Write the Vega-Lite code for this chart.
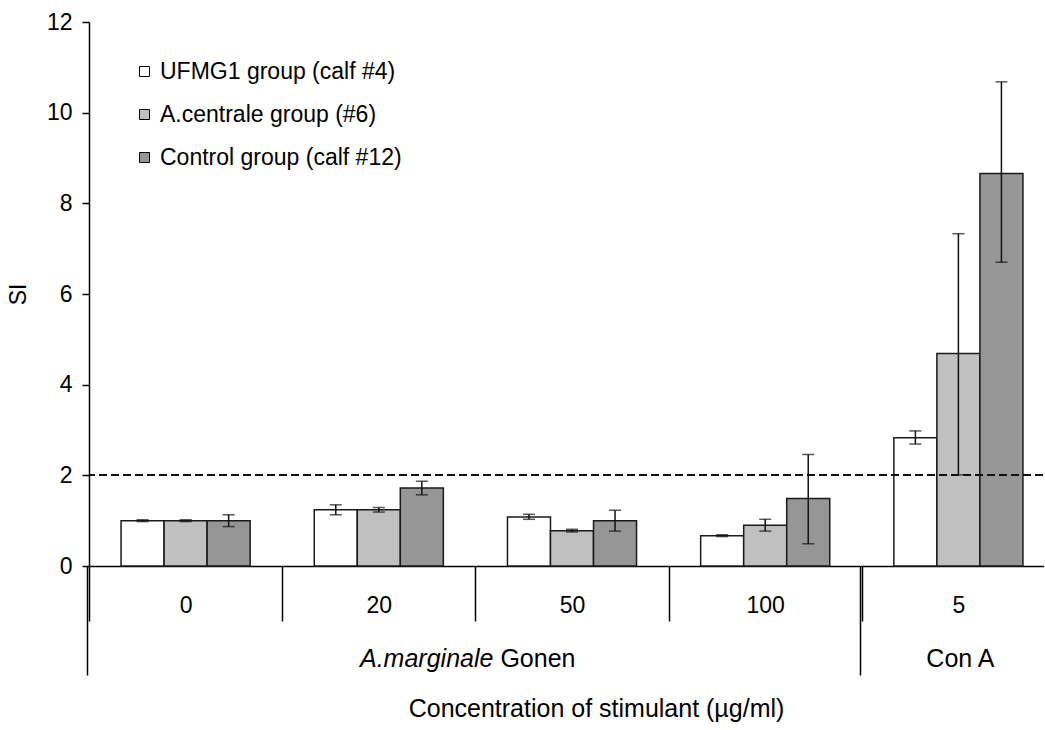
{
  "$schema": "https://vega.github.io/schema/vega-lite/v6.json",
  "width": 966,
  "height": 544,
  "autosize": {"type": "none"},
  "padding": {"left": 89, "top": 22, "right": -11, "bottom": 164},
  "background": "white",
  "config": {
    "font": "Liberation Sans",
    "view": {"stroke": null},
    "axis": {
      "labelColor": "#000",
      "titleColor": "#000",
      "domainColor": "#000",
      "tickColor": "#000",
      "domainWidth": 1.5,
      "tickWidth": 1.5,
      "labelFontSize": 23,
      "titleFontSize": 25,
      "titleFontWeight": "normal",
      "grid": false
    },
    "text": {"font": "Liberation Sans", "fontSize": 25, "color": "#000"}
  },
  "resolve": {"axis": {"x": "independent"}},
  "data": {
    "values": [
      {"conc": "0", "grp": "UFMG1 group (calf #4)", "si": 1.0, "lo": 0.98, "hi": 1.02},
      {"conc": "0", "grp": "A.centrale group (#6)", "si": 1.0, "lo": 0.98, "hi": 1.02},
      {"conc": "0", "grp": "Control group (calf #12)", "si": 1.0, "lo": 0.87, "hi": 1.13},
      {"conc": "20", "grp": "UFMG1 group (calf #4)", "si": 1.24, "lo": 1.13, "hi": 1.35},
      {"conc": "20", "grp": "A.centrale group (#6)", "si": 1.24, "lo": 1.19, "hi": 1.29},
      {"conc": "20", "grp": "Control group (calf #12)", "si": 1.72, "lo": 1.57, "hi": 1.87},
      {"conc": "50", "grp": "UFMG1 group (calf #4)", "si": 1.08, "lo": 1.03, "hi": 1.14},
      {"conc": "50", "grp": "A.centrale group (#6)", "si": 0.78, "lo": 0.75, "hi": 0.81},
      {"conc": "50", "grp": "Control group (calf #12)", "si": 1.0, "lo": 0.77, "hi": 1.23},
      {"conc": "100", "grp": "UFMG1 group (calf #4)", "si": 0.67, "lo": 0.65, "hi": 0.69},
      {"conc": "100", "grp": "A.centrale group (#6)", "si": 0.9, "lo": 0.77, "hi": 1.03},
      {"conc": "100", "grp": "Control group (calf #12)", "si": 1.49, "lo": 0.49, "hi": 2.46},
      {"conc": "5", "grp": "UFMG1 group (calf #4)", "si": 2.83, "lo": 2.69, "hi": 2.98},
      {"conc": "5", "grp": "A.centrale group (#6)", "si": 4.69, "lo": 2.01, "hi": 7.33},
      {"conc": "5", "grp": "Control group (calf #12)", "si": 8.66, "lo": 6.7, "hi": 10.68}
    ]
  },
  "layer": [
    {
      "mark": {"type": "bar", "stroke": "#1a1a1a", "strokeWidth": 1.5},
      "encoding": {
        "x": {
          "field": "conc",
          "type": "nominal",
          "sort": ["0", "20", "50", "100", "5"],
          "scale": {"paddingInner": 0, "paddingOuter": 0},
          "axis": {
            "orient": "bottom",
            "title": "Concentration of stimulant (µg/ml)",
            "labelAngle": 0,
            "tickBand": "extent",
            "tickSize": 55,
            "labelBaseline": "middle",
            "labelPadding": -16,
            "titleX": 507,
            "titleY": 142,
            "titleBaseline": "middle"
          }
        },
        "xOffset": {
          "field": "grp",
          "sort": ["UFMG1 group (calf #4)", "A.centrale group (#6)", "Control group (calf #12)"],
          "scale": {"paddingInner": 0, "paddingOuter": 0.745}
        },
        "y": {
          "field": "si",
          "type": "quantitative",
          "scale": {"domain": [0, 12], "nice": false},
          "axis": {
            "title": "SI",
            "values": [0, 2, 4, 6, 8, 10, 12],
            "tickSize": 7,
            "labelPadding": 10,
            "titleFontSize": 23,
            "titleX": -71,
            "titleY": 272,
            "titleBaseline": "middle",
            "titleAlign": "center"
          }
        },
        "fill": {
          "field": "grp",
          "type": "nominal",
          "scale": {
            "domain": ["UFMG1 group (calf #4)", "A.centrale group (#6)", "Control group (calf #12)"],
            "range": ["#ffffff", "#c0c0c0", "#969696"]
          },
          "legend": {
            "orient": "none",
            "legendX": 44,
            "legendY": 38,
            "title": null,
            "symbolType": "square",
            "symbolSize": 100,
            "symbolStrokeColor": "#000",
            "symbolStrokeWidth": 1,
            "symbolOpacity": 1,
            "labelFontSize": 23,
            "labelColor": "#000",
            "labelLimit": 400,
            "labelOffset": 4,
            "rowPadding": 19
          }
        }
      }
    },
    {
      "mark": {"type": "rule", "color": "#111", "strokeWidth": 1.5},
      "encoding": {
        "x": {"field": "conc", "type": "nominal", "sort": ["0", "20", "50", "100", "5"], "axis": null},
        "xOffset": {"field": "grp", "sort": ["UFMG1 group (calf #4)", "A.centrale group (#6)", "Control group (calf #12)"]},
        "y": {"field": "lo", "type": "quantitative"},
        "y2": {"field": "hi"}
      }
    },
    {
      "mark": {"type": "tick", "color": "#111", "size": 12, "thickness": 1.5},
      "encoding": {
        "x": {"field": "conc", "type": "nominal", "sort": ["0", "20", "50", "100", "5"], "axis": null},
        "xOffset": {"field": "grp", "sort": ["UFMG1 group (calf #4)", "A.centrale group (#6)", "Control group (calf #12)"]},
        "y": {"field": "lo", "type": "quantitative"}
      }
    },
    {
      "mark": {"type": "tick", "color": "#111", "size": 12, "thickness": 1.5},
      "encoding": {
        "x": {"field": "conc", "type": "nominal", "sort": ["0", "20", "50", "100", "5"], "axis": null},
        "xOffset": {"field": "grp", "sort": ["UFMG1 group (calf #4)", "A.centrale group (#6)", "Control group (calf #12)"]},
        "y": {"field": "hi", "type": "quantitative"}
      }
    },
    {
      "mark": {"type": "rule", "color": "#111", "strokeWidth": 1.5, "strokeDash": [8, 4]},
      "encoding": {"y": {"datum": 2}}
    },
    {
      "data": {"values": [{"conc": "20", "lab": "A.marginale"}]},
      "mark": {"type": "text", "fontStyle": "italic", "align": "right", "baseline": "middle", "dx": 18, "dy": 93},
      "encoding": {
        "x": {"field": "conc", "type": "nominal", "sort": ["0", "20", "50", "100", "5"], "bandPosition": 1, "axis": null},
        "y": {"datum": 0},
        "text": {"field": "lab"}
      }
    },
    {
      "data": {"values": [{"conc": "20", "lab": "Gonen"}]},
      "mark": {"type": "text", "align": "left", "baseline": "middle", "dx": 25, "dy": 93},
      "encoding": {
        "x": {"field": "conc", "type": "nominal", "sort": ["0", "20", "50", "100", "5"], "bandPosition": 1, "axis": null},
        "y": {"datum": 0},
        "text": {"field": "lab"}
      }
    },
    {
      "data": {"values": [{"conc": "0", "lab": ""}, {"conc": "5", "lab": "Con A"}]},
      "mark": {"type": "text", "align": "center", "baseline": "middle", "dx": 2, "dy": 93},
      "encoding": {
        "x": {
          "field": "conc",
          "type": "nominal",
          "sort": ["0", "20", "50", "100", "5"],
          "axis": {
            "orient": "bottom",
            "values": ["0", "5"],
            "bandPosition": 0,
            "tickOffset": -2,
            "tickSize": 109,
            "labels": false,
            "domain": false,
            "title": null
          }
        },
        "y": {"datum": 0},
        "text": {"field": "lab"}
      }
    }
  ]
}
